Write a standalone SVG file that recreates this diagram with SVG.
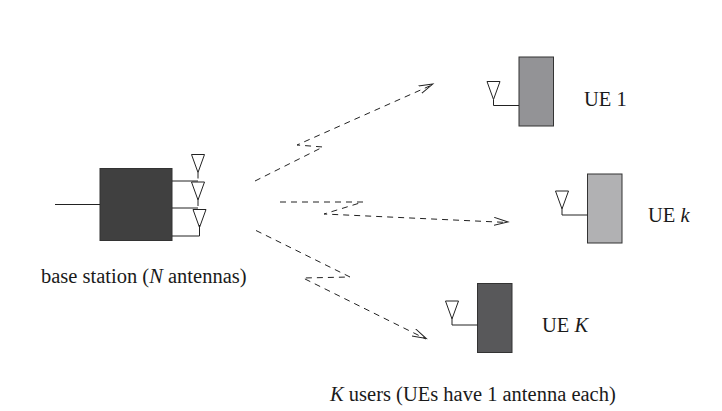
<svg xmlns="http://www.w3.org/2000/svg" width="722" height="411" viewBox="0 0 722 411">
<style>
text{font-family:"Liberation Serif","Times New Roman",serif;font-size:20.500px;fill:#1a1a1a}
.i{font-style:italic}
.w{fill:none;stroke:#222;stroke-width:1}
.a{fill:none;stroke:#222;stroke-width:1}
.box{stroke:#333;stroke-width:1}
.d{fill:none;stroke:#222;stroke-width:1;stroke-dasharray:6 5}
</style>
<defs>
<path id="ant" class="a" d="M-6.500 0H6.500L0 18ZM0 18V24"/>
<marker id="open" markerUnits="userSpaceOnUse" markerWidth="16" markerHeight="12" refX="14" refY="5" orient="auto"><path d="M0 0.500L14 4.500L0 8.500" fill="none" stroke="#222" stroke-width="1"/></marker>
</defs>
<rect width="722" height="411" fill="#fff"/>
<g id="connectors">
<path class="d" d="M255 181L323 147L297 145L433 84.500" marker-end="url(#open)"/>
<path class="d" d="M280 202L363 202L324 214L508 222.500" marker-end="url(#open)"/>
<path class="d" d="M256 230.500L350 277L303 278L426 339" marker-end="url(#open)"/>
</g>
<g id="base-station">
<rect class="box" x="100" y="168.500" width="72" height="72" fill="#404040"/>
<path class="w" d="M55 204.500H100M172 181H198M172 208H198M172 236H199.500V225"/>
<use href="#ant" x="198" y="154.500"/>
<use href="#ant" x="198" y="182"/>
<use href="#ant" x="199.500" y="209.500"/>
<text x="41" y="283">base station (<tspan class="i">N</tspan> antennas)</text>
</g>
<g id="ue-1">
<rect class="box" x="519" y="57" width="34.500" height="69" fill="#939396"/>
<use href="#ant" x="493.500" y="81.500"/>
<path class="w" d="M493.500 105.500H519"/>
<text x="584" y="106">UE 1</text>
</g>
<g id="ue-k">
<rect class="box" x="587.500" y="174" width="34.500" height="69" fill="#b1b1b3"/>
<use href="#ant" x="562" y="191"/>
<path class="w" d="M562 215H587.500"/>
<text x="648" y="222">UE <tspan class="i">k</tspan></text>
</g>
<g id="ue-K">
<rect class="box" x="477.500" y="283.500" width="34.500" height="69" fill="#58585a"/>
<use href="#ant" x="452" y="301"/>
<path class="w" d="M452 325H477.500"/>
<text x="542" y="332">UE <tspan class="i">K</tspan></text>
</g>
<text id="caption" x="330" y="401"><tspan class="i">K</tspan> users (UEs have 1 antenna each)</text>
</svg>
